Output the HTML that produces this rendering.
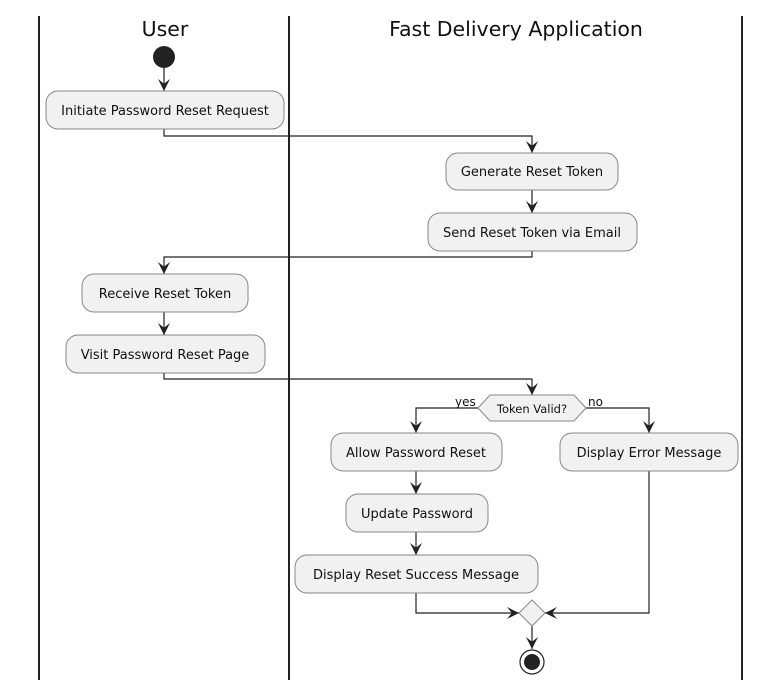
<!DOCTYPE html>
<html><head><meta charset="utf-8"><style>body{margin:0;background:#fff}svg{display:block}</style></head><body>
<svg width="763" height="687" xmlns="http://www.w3.org/2000/svg" font-family="DejaVu Sans, Liberation Sans, sans-serif">
<defs>
<marker id="a" markerWidth="12" markerHeight="12" refX="10" refY="5" orient="auto" markerUnits="userSpaceOnUse" viewBox="0 0 10 10">
<path d="M0,0 L10,5 L0,10 L4,5 Z" fill="#222"/></marker>
</defs>
<rect width="763" height="687" fill="#fff"/>
<g stroke="#222" stroke-width="2"><line x1="39" y1="16" x2="39" y2="680"/><line x1="289" y1="16" x2="289" y2="680"/><line x1="742" y1="16" x2="742" y2="680"/></g>
<g font-size="20.5" fill="#111" text-anchor="middle"><text x="165" y="36">User</text><text x="516" y="36">Fast Delivery Application</text></g>
<circle cx="164" cy="57" r="11" fill="#222"/>
<g stroke="#222" stroke-width="1.2" fill="none" marker-end="url(#a)">
<line x1="164" y1="68" x2="164" y2="91"/>
<polyline points="164,129 164,136 532,136 532,153"/>
<line x1="532" y1="190" x2="532" y2="213"/>
<polyline points="532,251 532,257 164,257 164,274"/>
<line x1="164" y1="312" x2="164" y2="335"/>
<polyline points="164,373 164,379 532,379 532,395"/>
<polyline points="478,408 416,408 416,433"/>
<polyline points="586,408 649,408 649,433"/>
<line x1="416" y1="471" x2="416" y2="494"/>
<line x1="416" y1="532" x2="416" y2="555"/>
<polyline points="416,593 416,613 519,613"/>
<polyline points="649,471 649,613 545,613"/>
<line x1="532" y1="626" x2="532" y2="649"/>
</g>
<g fill="#f1f1f1" stroke="#888" stroke-width="1">
<rect x="46" y="91" width="238" height="38" rx="12"/>
<rect x="446" y="153" width="172" height="37" rx="12"/>
<rect x="428" y="213" width="209" height="38" rx="12"/>
<rect x="82" y="274" width="166" height="38" rx="12"/>
<rect x="66" y="335" width="199" height="38" rx="12"/>
<polygon points="478,408 490,395 574,395 586,408 574,421 490,421"/>
<rect x="331" y="433" width="171" height="38" rx="12"/>
<rect x="560" y="433" width="178" height="38" rx="12"/>
<rect x="346" y="494" width="142" height="38" rx="12"/>
<rect x="295" y="555" width="243" height="38" rx="12"/>
<polygon points="532,600 545,613 532,626 519,613"/>
</g>
<circle cx="532" cy="662" r="12" fill="#fff" stroke="#222" stroke-width="1.2"/>
<circle cx="532" cy="662" r="8" fill="#222"/>
<g font-size="13" fill="#111" text-anchor="middle">
<text x="165" y="115">Initiate Password Reset Request</text>
<text x="532" y="176">Generate Reset Token</text>
<text x="532" y="237">Send Reset Token via Email</text>
<text x="165" y="298">Receive Reset Token</text>
<text x="165" y="359">Visit Password Reset Page</text>
<text x="532" y="413" font-size="11.5">Token Valid?</text>
<text x="416" y="457">Allow Password Reset</text>
<text x="649" y="457">Display Error Message</text>
<text x="417" y="518">Update Password</text>
<text x="416" y="579">Display Reset Success Message</text>
</g>
<g font-size="12" fill="#111"><text x="455" y="406">yes</text><text x="588" y="406">no</text></g>
</svg>
</body></html>
